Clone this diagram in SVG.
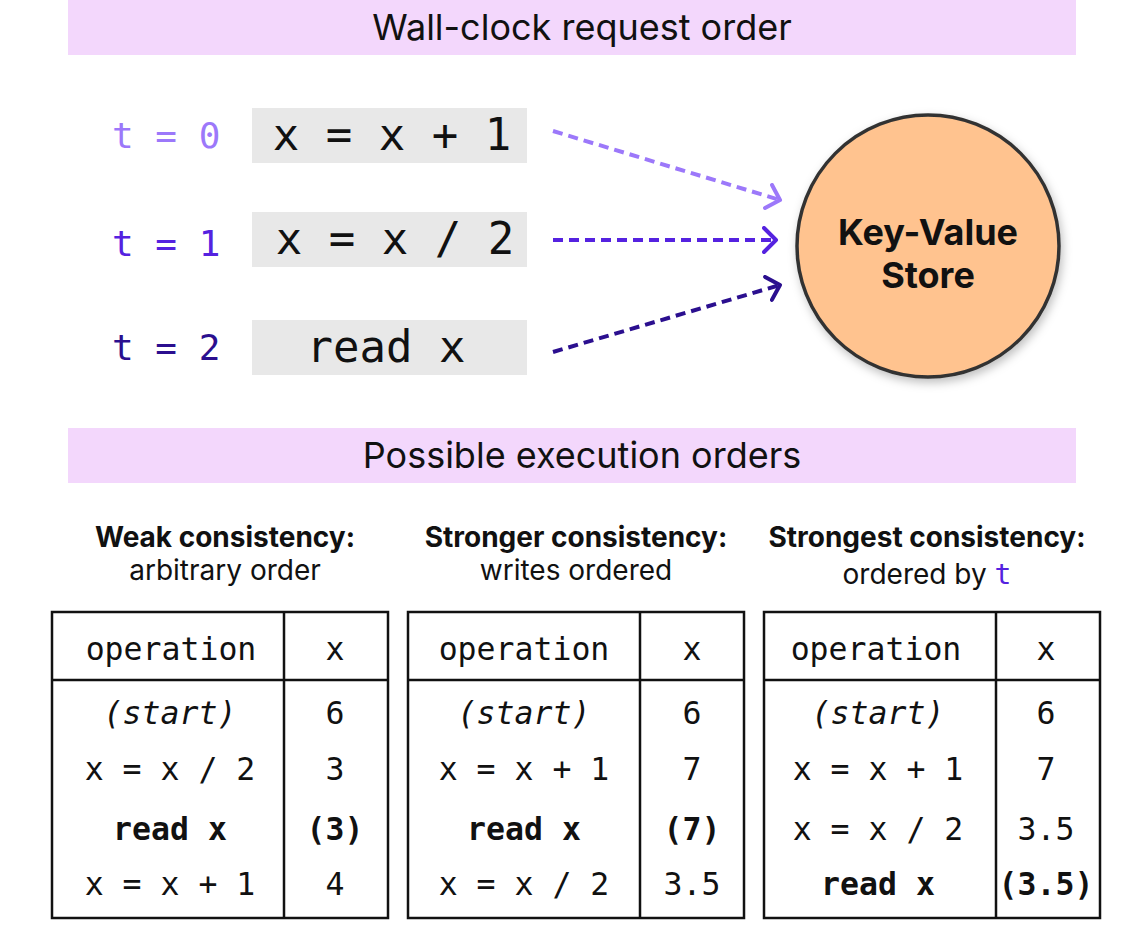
<svg xmlns="http://www.w3.org/2000/svg" width="1144" height="940" viewBox="0 0 1144 940">
<style>
.banner{fill:#f3d7fc}
.btitle{font-family:Inter,"Liberation Sans",sans-serif;font-size:36px;fill:#111;text-anchor:middle}
.code{font-family:"DejaVu Sans Mono","Liberation Mono",monospace;text-anchor:middle;fill:#111}
.big{font-size:44px}
.tl{font-family:"DejaVu Sans Mono","Liberation Mono",monospace;font-size:36px}
.box{fill:#e8e8e8}
.h1{font-family:Inter,"Liberation Sans",sans-serif;font-weight:bold;font-size:28px;text-anchor:middle;fill:#111}
.h2{font-family:Inter,"Liberation Sans",sans-serif;font-size:28px;text-anchor:middle;fill:#111}
.tab{fill:none;stroke:#111;stroke-width:2.5}
.cell{font-family:"DejaVu Sans Mono","Liberation Mono",monospace;font-size:31.5px;text-anchor:middle;fill:#111}
.b{font-weight:bold}
.i{font-style:italic}
.conn{fill:none;stroke-width:4;stroke-dasharray:10 6}
.c0{stroke:#9c78fa}.c1{stroke:#5522e0}.c2{stroke:#2b0f8f}
.kv{font-family:Inter,"Liberation Sans",sans-serif;font-weight:bold;font-size:36px;text-anchor:middle;fill:#111}
</style>
<defs>
<marker id="m0" markerUnits="userSpaceOnUse" markerWidth="24" markerHeight="30" refX="14" refY="14" orient="auto" viewBox="0 0 24 30"><path d="M2,2 L14,14 L2,26" fill="none" stroke="#9c78fa" stroke-width="4" stroke-linecap="round" stroke-linejoin="round"/></marker>
<marker id="m1" markerUnits="userSpaceOnUse" markerWidth="24" markerHeight="30" refX="14" refY="14" orient="auto" viewBox="0 0 24 30"><path d="M2,2 L14,14 L2,26" fill="none" stroke="#5522e0" stroke-width="4" stroke-linecap="round" stroke-linejoin="round"/></marker>
<marker id="m2" markerUnits="userSpaceOnUse" markerWidth="24" markerHeight="30" refX="14" refY="14" orient="auto" viewBox="0 0 24 30"><path d="M2,2 L14,14 L2,26" fill="none" stroke="#2b0f8f" stroke-width="4" stroke-linecap="round" stroke-linejoin="round"/></marker>
<filter id="sh" x="-20%" y="-20%" width="140%" height="140%"><feDropShadow dx="2" dy="4" stdDeviation="5" flood-color="#000" flood-opacity="0.25"/></filter>
</defs>
<rect width="1144" height="940" fill="#fff"/>

<g id="banner-top">
<rect class="banner" x="68" y="0" width="1008" height="55"/>
<text class="btitle" x="582" y="40">Wall-clock request order</text>
</g>

<g id="req0">
<text class="tl" x="112" y="148" fill="#9c78fa">t = 0</text>
<rect class="box" x="252" y="108" width="275" height="55"/>
<text class="code big" x="392" y="150">x = x + 1</text>
</g>
<g id="req1">
<text class="tl" x="112" y="256" fill="#5522e0">t = 1</text>
<rect class="box" x="252" y="212" width="275" height="55"/>
<text class="code big" x="395" y="254">x = x / 2</text>
</g>
<g id="req2">
<text class="tl" x="112" y="360" fill="#2b0f8f">t = 2</text>
<rect class="box" x="252" y="320" width="275" height="55"/>
<text class="code big" x="386" y="362">read x</text>
</g>

<g id="store">
<circle cx="928" cy="246" r="131" fill="#ffc38f" stroke="#333" stroke-width="3.5" filter="url(#sh)"/>
<text class="kv" x="928" y="245">Key-Value</text>
<text class="kv" x="928" y="288">Store</text>
</g>

<g id="connectors">
<line class="conn c0" x1="553" y1="131" x2="780" y2="200" marker-end="url(#m0)"/>
<line class="conn c1" x1="553" y1="240" x2="776" y2="240" marker-end="url(#m1)"/>
<line class="conn c2" x1="553" y1="352" x2="780" y2="285" marker-end="url(#m2)"/>
</g>

<g id="banner-bottom">
<rect class="banner" x="68" y="428" width="1008" height="55"/>
<text class="btitle" x="582" y="468">Possible execution orders</text>
</g>

<g id="weak">
<text class="h1" x="225" y="547">Weak consistency:</text>
<text class="h2" x="225" y="580">arbitrary order</text>
<rect class="tab" x="52" y="612" width="336" height="306"/>
<line class="tab" x1="284" y1="612" x2="284" y2="918"/>
<line class="tab" x1="52" y1="680" x2="388" y2="680"/>
<text class="cell" x="171" y="660">operation</text>
<text class="cell" x="335" y="660">x</text>
<text class="cell i" x="170" y="724">(start)</text>
<text class="cell" x="335" y="724">6</text>
<text class="cell" x="170" y="780">x = x / 2</text>
<text class="cell" x="335" y="780">3</text>
<text class="cell b" x="170" y="840">read x</text>
<text class="cell b" x="335" y="840">(3)</text>
<text class="cell" x="170" y="895">x = x + 1</text>
<text class="cell" x="335" y="895">4</text>
</g>

<g id="stronger">
<text class="h1" x="576" y="547">Stronger consistency:</text>
<text class="h2" x="576" y="580">writes ordered</text>
<rect class="tab" x="408" y="612" width="336" height="306"/>
<line class="tab" x1="640" y1="612" x2="640" y2="918"/>
<line class="tab" x1="408" y1="680" x2="744" y2="680"/>
<text class="cell" x="524" y="660">operation</text>
<text class="cell" x="692" y="660">x</text>
<text class="cell i" x="524" y="724">(start)</text>
<text class="cell" x="692" y="724">6</text>
<text class="cell" x="524" y="780">x = x + 1</text>
<text class="cell" x="692" y="780">7</text>
<text class="cell b" x="524" y="840">read x</text>
<text class="cell b" x="692" y="840">(7)</text>
<text class="cell" x="524" y="895">x = x / 2</text>
<text class="cell" x="692" y="895">3.5</text>
</g>

<g id="strongest">
<text class="h1" x="927" y="547">Strongest consistency:</text>
<text class="h2" x="927" y="584">ordered by <tspan font-family="DejaVu Sans Mono,Liberation Mono,monospace" fill="#5522e0">t</tspan></text>
<rect class="tab" x="764" y="612" width="336" height="306"/>
<line class="tab" x1="996" y1="612" x2="996" y2="918"/>
<line class="tab" x1="764" y1="680" x2="1100" y2="680"/>
<text class="cell" x="876" y="660">operation</text>
<text class="cell" x="1046" y="660">x</text>
<text class="cell i" x="878" y="724">(start)</text>
<text class="cell" x="1046" y="724">6</text>
<text class="cell" x="878" y="780">x = x + 1</text>
<text class="cell" x="1046" y="780">7</text>
<text class="cell" x="878" y="840">x = x / 2</text>
<text class="cell" x="1046" y="840">3.5</text>
<text class="cell b" x="878" y="895">read x</text>
<text class="cell b" x="1046" y="895">(3.5)</text>
</g>
</svg>
